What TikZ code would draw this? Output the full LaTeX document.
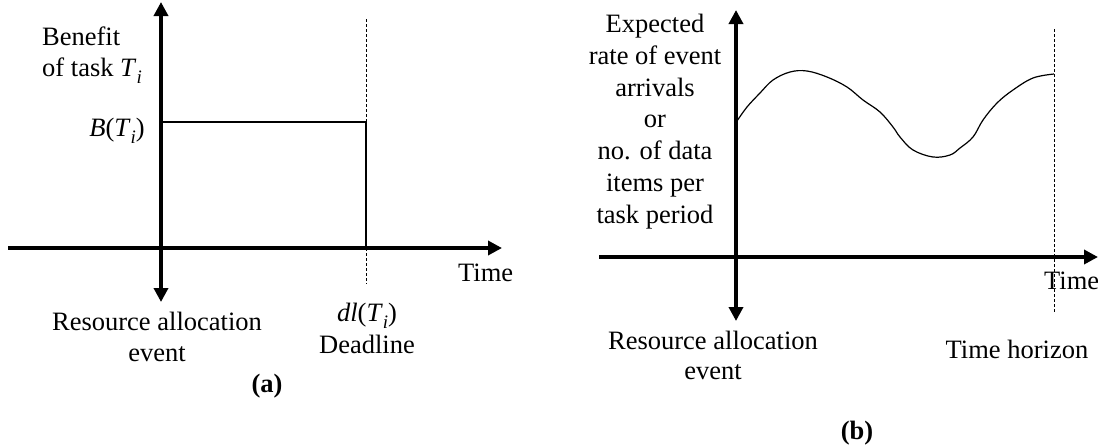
\documentclass[tikz,border=0pt]{standalone}
\usepackage{fontspec}
\setmainfont{Liberation Serif}
\usetikzlibrary{arrows.meta}
\newcommand{\sub}[1]{\raisebox{-0.3em}{\fontsize{19}{20}\selectfont\itshape #1}}
\begin{document}
\begin{tikzpicture}[x=1pt,y=-1pt,
  axis/.style={line width=4pt,-{Triangle[length=14pt,width=14pt]}},
  thinline/.style={line width=1.4pt},
  dashline/.style={line width=0.9pt,dash pattern=on 3pt off 2pt},
  lbl/.style={inner sep=0pt,font=\fontsize{26.5}{31.7}\selectfont,align=center},
  curve/.style={line width=1.2pt}]
\useasboundingbox (0,0) rectangle (1098,445);
% ---- panel (a)
\coordinate (aL) at (8,248);
\coordinate (aR) at (502,248);
\coordinate (aO) at (161,248);
\coordinate (aT) at (161,2);
\coordinate (aB) at (161,302);
\coordinate (rTL) at (161,122);
\coordinate (rTR) at (366,122);
\coordinate (rBR) at (366,248);
\coordinate (dTop) at (366,19);
\coordinate (dBot) at (366,284);
\draw[thinline] (rTL) -- (rTR) -- (rBR);
\draw[dashline] (dTop) -- (rTR);
\draw[dashline] (rBR) -- (dBot);
\draw[axis] (aL) -- (aR);
\draw[axis] (aO) -- (aT);
\draw[axis] (aO) -- (aB);
\node[lbl,anchor=base west] (ben1) at (42,45) {Benefit};
\node[lbl,anchor=base west] (ben2) at (42,76) {of task \textit{T}\sub{i}};
\node[lbl,anchor=base east] (bti) at (145,136) {\textit{B}(\textit{T}\sub{i})};
\node[lbl,anchor=base] (rae1) at (157,330) {Resource allocation};
\node[lbl,anchor=base] (rae2) at (157,361) {event};
\node[lbl,anchor=base] (dl) at (367,321) {\textit{dl}(\textit{T}\sub{i})};
\node[lbl,anchor=base] (dead) at (367,353) {Deadline};
\node[lbl,anchor=base west] (timea) at (458,281) {Time};
\node[lbl,anchor=base] (pa) at (267,392) {\textbf{(a)}};
% ---- panel (b)
\coordinate (bL) at (599,257);
\coordinate (bR) at (1098,257);
\coordinate (bO) at (736,257);
\coordinate (bT) at (736,10);
\coordinate (bB) at (736,321);
\coordinate (hTop) at (1054,29);
\coordinate (hBot) at (1054,313);
\draw[dashline] (hTop) -- (hBot);
\draw[curve] plot[smooth,tension=0.6] coordinates {(737,121) (747,107) (760,93) (773,80) (790,72) (807,71) (827,77) (847,87) (863,100) (880,112) (893,127) (900,137) (913,150) (933,157) (950,155) (960,148) (973,137) (983,120) (997,103) (1013,90) (1033,78) (1054,74)};
\draw[axis] (bL) -- (bR);
\draw[axis] (bO) -- (bT);
\draw[axis] (bO) -- (bB);
\node[lbl,anchor=base] (exp) at (655,223) {Expected\\rate of event\\arrivals\\or\\no. of data\\items per\\task period};
\node[lbl,anchor=base west] (timeb) at (1044,289) {Time};
\node[lbl,anchor=base] (rbe1) at (713,349) {Resource allocation};
\node[lbl,anchor=base] (rbe2) at (713,379) {event};
\node[lbl,anchor=base] (hor) at (1017,358) {Time horizon};
\node[lbl,anchor=base] (pb) at (857,439) {\textbf{(b)}};
\end{tikzpicture}
\end{document}
